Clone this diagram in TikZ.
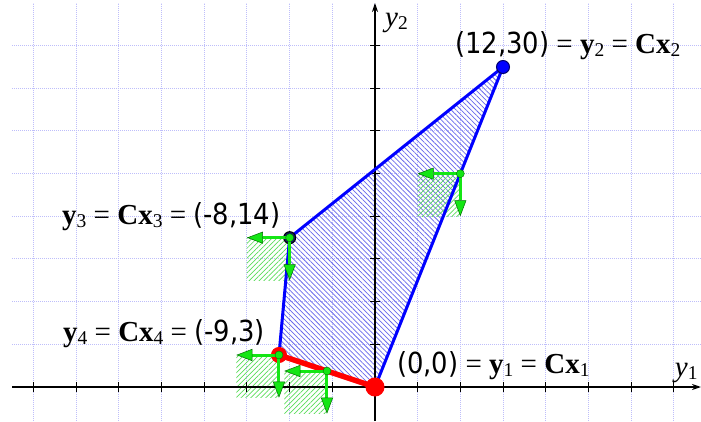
\documentclass[tikz,border=0pt]{standalone}
\usepackage{fontspec}
\newfontfamily\numf[FakeStretch=0.89]{DejaVu Sans}
\newfontfamily\serf{Liberation Serif}
\usetikzlibrary{arrows.meta,patterns.meta}
\definecolor{gridc}{RGB}{190,190,250}
\definecolor{hatchb}{RGB}{105,105,235}
\definecolor{hatchg}{RGB}{90,220,90}
\definecolor{grn}{RGB}{20,230,20}
\definecolor{grndark}{RGB}{0,110,0}
\definecolor{blu}{RGB}{0,0,255}
\definecolor{navyc}{RGB}{0,0,110}
\definecolor{darkdot}{RGB}{20,20,100}
\definecolor{rd}{RGB}{255,0,0}
\newcommand\lsub[1]{\raisebox{-3pt}{\fontsize{19.5}{22}\selectfont #1}}
\tikzset{
  gridline/.style={draw=gridc, line width=1pt, dash pattern=on 1pt off 1pt},
  axisline/.style={draw=black, line width=1.3pt},
  tickline/.style={draw=black, line width=1pt},
  bhatch/.style={pattern={Lines[angle=-45,distance=3.5pt,line width=0.75pt]}, pattern color=hatchb},
  ghatch/.style={pattern={Lines[angle=45,distance=3.5pt,line width=0.7pt]}, pattern color=hatchg},
  bedge/.style={draw=blu, line width=3pt, line join=round, line cap=round},
  redge/.style={draw=rd, line width=5.5pt, line cap=round},
  garrow/.style={draw=grn, line width=3pt, -{Triangle[length=16pt,width=12pt,fill=grn,color=grndark,line width=0.5pt]}},
  vdot/.style={circle, inner sep=0pt, line width=1pt},
  gdot/.style={circle, fill=grn, draw=grndark, line width=0.4pt, inner sep=0pt, minimum size=8pt},
  lab/.style={inner sep=0pt, anchor=base west, font=\serf\fontsize{29}{33}\selectfont}
}
\begin{document}
\begin{tikzpicture}[x=10.667pt,y=10.667pt]
\useasboundingbox (-35.156,-3.1875) rectangle (30.5625,36.281);
% grid
\foreach \gx in {-32,-28,...,28} \draw[gridline] (\gx,-3.1875) -- (\gx,36);
\foreach \gy in {4,8,...,32} \draw[gridline] (-34,\gy) -- (30.5625,\gy);
% points
\coordinate (P1) at (0,0);
\coordinate (P2) at (12,30);
\coordinate (P3) at (-8,14);
\coordinate (P4) at (-9,3);
\coordinate (G1) at (8,20);
\coordinate (G2) at (-8,14);
\coordinate (G3) at (-9,3);
\coordinate (G4) at (-4.5,1.5);
% hatching
\fill[bhatch] (P1) -- (P2) -- (P3) -- (P4) -- cycle;
\foreach \g in {G1,G2,G3,G4} \fill[ghatch] (\g) rectangle ++(-4,-4);
% axes
\coordinate (XA0) at (-34,0);
\coordinate (XA1) at (30.5625,0);
\coordinate (YA0) at (0,-3.1875);
\coordinate (YA1) at (0,36.0);
\draw[axisline,-{Stealth[length=9pt,width=6pt]}] (XA0) -- (XA1);
\draw[axisline,-{Stealth[length=9pt,width=6pt]}] (YA0) -- (YA1);
\foreach \t in {-32,-28,...,-4,4,8,...,28} \draw[tickline] (\t,-0.45) -- (\t,0.45);
\foreach \t in {4,8,...,32} \draw[tickline] (-0.45,\t) -- (0.45,\t);
% edges
\draw[bedge] (P4) -- (P3) -- (P2) -- (P1);
\draw[redge] (P4) -- (P1);
% vertex dots
\node[vdot, fill=blu, draw=navyc, minimum size=13pt] (D2) at (P2) {};
\node[vdot, fill=darkdot, draw=black, minimum size=12pt] (D3) at (P3) {};
\node[vdot, fill=rd, draw=rd, minimum size=15pt] (D4) at (P4) {};
% green arrows
\coordinate (G1l) at (4,20);     \coordinate (G1d) at (8,16);
\coordinate (G2l) at (-12,14);   \coordinate (G2d) at (-8,10);
\coordinate (G3l) at (-13,3);    \coordinate (G3d) at (-9,-1);
\coordinate (G4l) at (-8.5,1.5); \coordinate (G4d) at (-4.5,-2.5);
\foreach \g in {G1,G2,G3,G4} {
  \draw[garrow] (\g) -- (\g l);
  \draw[garrow] (\g) -- (\g d);
}
\node[gdot] (g1) at (G1) {};
\node[gdot] (g2) at (G2) {};
\node[gdot] (g3) at (G3) {};
\node[gdot] (g4) at (G4) {};
\node[vdot, fill=rd, draw=rd, minimum size=18pt] (D1) at (P1) {};
% labels
\node[lab] (L2) at (7.5,31.31) {{\numf (12,30)} = \textbf{y}\lsub{2} = \textbf{Cx}\lsub{2}};
\node[lab] (L3) at (-29.34,15.28) {\textbf{y}\lsub{3} = \textbf{Cx}\lsub{3} = {\numf (-8,14)}};
\node[lab] (L4) at (-29.25,4.31) {\textbf{y}\lsub{4} = \textbf{Cx}\lsub{4} = {\numf (-9,3)}};
\node[lab] (L1) at (2.06,1.31) {{\numf (0,0)} = \textbf{y}\lsub{1} = \textbf{Cx}\lsub{1}};
\node[lab] (AX1) at (28.1,1.03) {\textit{y}\lsub{1}};
\node[lab] (AX2) at (0.94,33.75) {\textit{y}\lsub{2}};
\end{tikzpicture}
\end{document}
